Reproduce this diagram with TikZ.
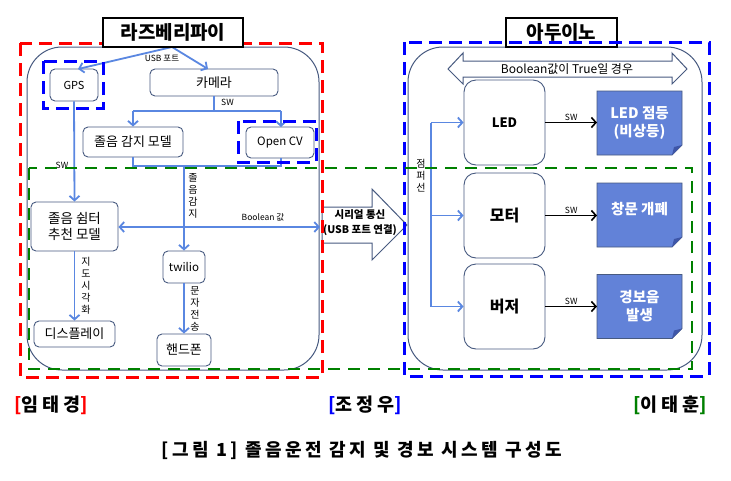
\documentclass[tikz,border=0pt]{standalone}
\usepackage{fontspec}
\setmainfont{Noto Sans CJK KR}
\newfontfamily\capfont[LetterSpace=19]{Noto Sans CJK KR}
\newfontfamily\namefont[LetterSpace=20]{Noto Sans CJK KR}
\usetikzlibrary{arrows.meta}
\definecolor{linec}{HTML}{5A87E1}
\definecolor{boxc}{HTML}{475A80}
\definecolor{docfill}{HTML}{6282D8}
\definecolor{foldc}{HTML}{3E56A8}
\definecolor{dred}{HTML}{FF0000}
\definecolor{dblue}{HTML}{0000FF}
\definecolor{dgreen}{HTML}{008000}
\begin{document}
\begin{tikzpicture}[x=1pt,y=-1pt,
  rbox/.style={draw=boxc, line width=0.9pt, rounded corners=5pt, fill=white, inner sep=0pt, font=\fontsize{13}{15}\selectfont},
  abox/.style={draw=boxc, line width=0.9pt, rounded corners=12pt, fill=white, inner sep=0pt, minimum width=81pt, minimum height=85pt},
  docnode/.style={inner sep=0pt, minimum width=85pt, minimum height=64pt, text=white, align=center, font=\bfseries\fontsize{14.5}{18}\selectfont},
  titlebox/.style={draw=black, line width=1.6pt, fill=white, inner sep=0pt, font=\bfseries\fontsize{19}{22}\selectfont},
  conn/.style={draw=linec, line width=1.8pt, -{Straight Barb[length=4.5pt,width=10pt]}},
  plain/.style={draw=linec, line width=1.8pt},
  swarrow/.style={draw=black, line width=1.6pt, -{Straight Barb[length=4.5pt,width=10pt]}},
  small/.style={font=\fontsize{8.5}{10}\selectfont, inner sep=1pt},
  vlab/.style={font=\fontsize{10}{12}\selectfont, align=center, inner sep=0pt},
  reddash/.style={draw=dred, line width=3pt, dash pattern=on 13pt off 7pt},
  bluedash/.style={draw=dblue, line width=3pt, dash pattern=on 13pt off 7pt},
  greendash/.style={draw=dgreen, line width=2.6pt, dash pattern=on 12pt off 8pt},
  outline/.style={draw=boxc, line width=1pt}
]
\useasboundingbox (0,0) rectangle (731,480);
\fill[white] (0,0) rectangle (731,480);

% containers
\draw[outline, rounded corners=35pt] (27,47) rectangle (319,370);
\draw[outline, rounded corners=35pt] (408,47) rectangle (702,370);

% Raspberry nodes
\node[rbox, minimum width=48pt, minimum height=32pt, font=\fontsize{11}{13}\selectfont] (gps) at (74,85) {GPS};
\node[rbox, minimum width=128pt, minimum height=27pt] (cam) at (214,82.5) {카메라};
\node[rbox, minimum width=100pt, minimum height=30pt] (drow) at (133,142) {졸음 감지 모델};
\node[rbox, minimum width=68pt, minimum height=31pt, font=\fontsize{11.5}{13}\selectfont] (cv) at (280,142.5) {Open CV};
\node[rbox, minimum width=87pt, minimum height=49pt, align=center, font=\fontsize{13.5}{16}\selectfont] (shelter) at (74.5,226.5) {졸음 쉼터\\추천 모델};
\node[rbox, minimum width=42pt, minimum height=32pt, font=\fontsize{11.5}{13}\selectfont] (tw) at (184,267) {twilio};
\node[rbox, minimum width=81pt, minimum height=26pt] (disp) at (74.5,334) {디스플레이};
\node[rbox, minimum width=54pt, minimum height=32pt] (phone) at (184,350) {핸드폰};

% big hollow arrow
\draw[outline, fill=white] (322,207) -- (372,207) -- (372,189) -- (407,225) -- (372,260) -- (372,243) -- (322,243) -- cycle;
\node[align=center, font=\bfseries\fontsize{10.5}{15}\selectfont, inner sep=0pt] (serial) at (360,223) {시리얼 통신\\(USB 포트 연결)};

% Raspberry connectors
\coordinate (tsrc) at (172,47);
\draw[conn] (tsrc) -- (78,69);
\draw[conn] (tsrc) -- (208,69);
\node[small] (usb) at (162,58) {USB 포트};
\coordinate (camsplit) at (214,111);
\draw[plain] (cam.south) -- (camsplit);
\draw[plain] (133,111) -- (281,111);
\draw[conn] (133,111) -- (drow.north);
\draw[conn] (281,111) -- (281,127);
\node[small, anchor=west] (sw1) at (220,102) {SW};
\coordinate (mergeL) at (133,166);
\coordinate (mergeR) at (281,166);
\draw[plain] (drow.south) -- (mergeL) -- (mergeR) -- (281,158);
\coordinate (mergeM) at (184,166);
\draw[conn] (mergeM) -- (tw.north);
\node[vlab] (lab1) at (193,196) {졸\\음\\감\\지};
\coordinate (boolR) at (320,227);
\draw[draw=linec, line width=1.8pt, {Straight Barb[length=4.5pt,width=10pt]}-{Straight Barb[length=4.5pt,width=10pt]}] (shelter.east |- 0,227) -- (boolR);
\node[small] (boolv) at (263,217) {Boolean 값};
\draw[conn] (gps.south) -- (shelter.north);
\node[small] (sw2) at (62,165) {SW};
\draw[conn] (shelter.south) -- (disp.north);
\node[vlab] (lab2) at (86,286) {지\\도\\시\\각\\화};
\draw[conn] (tw.south) -- (phone.north);
\node[vlab] (lab3) at (195,309) {문\\자\\전\\송};

% Arduino
\draw[outline, fill=white] (448,69) -- (463,53) -- (463,61) -- (672,61) -- (672,53) -- (687,69) -- (672,84) -- (672,77) -- (463,77) -- (463,84) -- cycle;
\node[font=\fontsize{12}{14}\selectfont, inner sep=0pt] (trueLab) at (567,69) {Boolean값이 True일 경우};
\node[abox, font=\bfseries\fontsize{13}{15}\selectfont] (led) at (504.5,122.5) {LED};
\node[abox, font=\bfseries\fontsize{16}{18}\selectfont] (motor) at (504.5,215.5) {모터};
\node[abox, font=\bfseries\fontsize{16}{18}\selectfont] (buzz) at (504.5,306.5) {버저};

\foreach \n/\cy in {d1/123, d2/215, d3/306.5}{
  \fill[docfill] (597,\cy-32) -- (682,\cy-32) -- (682,\cy+22) -- (672,\cy+32) -- (597,\cy+32) -- cycle;
  \draw[boxc, line width=0.7pt] (597,\cy-32) -- (682,\cy-32) -- (682,\cy+22) -- (672,\cy+32) -- (597,\cy+32) -- cycle;
  \fill[foldc] (682,\cy+22) -- (672,\cy+32) -- (674,\cy+24) -- cycle;
}
\node[docnode] (ledd) at (639.5,123) {LED 점등\\(비상등)};
\node[docnode, yshift=6pt] (wind) at (639.5,215) {창문 개폐};
\node[docnode] (alarm) at (639.5,306.5) {경보음\\발생};

\draw[swarrow] (led.east) -- (597,122.5) node[midway, above, small] {SW};
\draw[swarrow] (motor.east) -- (597,215.5) node[midway, above, small] {SW};
\draw[swarrow] (buzz.east) -- (597,306.5) node[midway, above, small] {SW};

\coordinate (busT) at (431,122.5);
\coordinate (busB) at (431,306.5);
\draw[plain] (busT) -- (busB);
\draw[conn] (busT) -- (led.west);
\draw[conn] (431,215.5) -- (motor.west);
\draw[conn] (busB) -- (buzz.west);
\node[vlab] (lab4) at (421,176) {점\\퍼\\선};

% dashed groups
\draw[reddash] (20,43) rectangle (322,377);
\draw[bluedash] (43,61) rectangle (103,108);
\draw[bluedash] (238,121) rectangle (316,162);
\node[titlebox, minimum width=140pt, minimum height=29pt] (rpi) at (173,32.5) {라즈베리파이};
\node[titlebox, minimum width=111pt, minimum height=29pt] (ard) at (561.5,32.5) {아두이노};
\draw[bluedash] (404,42) rectangle (709,376);
\draw[greendash] (29,168) rectangle (692,369);

% names and caption
\node[font=\namefont\bfseries\fontsize{18.5}{20}\selectfont] (n1) at (51,405) {\textcolor{dred}{[}임태경\textcolor{dred}{]}};
\node[font=\namefont\bfseries\fontsize{18.5}{20}\selectfont] (n2) at (365,405) {\textcolor{dblue}{[}조정우\textcolor{dblue}{]}};
\node[font=\namefont\bfseries\fontsize{18.5}{20}\selectfont] (n3) at (670,405) {\textcolor{dgreen}{[}이태훈\textcolor{dgreen}{]}};
\node[font=\capfont\bfseries\fontsize{18}{20}\selectfont] (cap) at (362,450) {[그림 1] 졸음운전 감지 및 경보 시스템 구성도};
\end{tikzpicture}
\end{document}
